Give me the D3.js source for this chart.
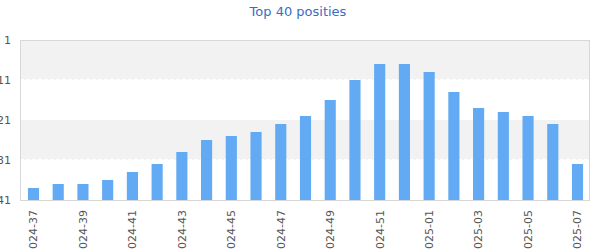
<!DOCTYPE html>
<html>
<head>
<meta charset="utf-8">
<script src="https://cdn.jsdelivr.net/npm/d3@7"></script>
<style>
  body { margin: 0; background: #fff; }
  svg { display: block; font-family: "DejaVu Sans", sans-serif; }
</style>
</head>
<body>
<div id="chart"></div>
<script>
// weeks and chart positions (1 = top)
const weeks = ["2024-37", "2024-38", "2024-39", "2024-40", "2024-41", "2024-42", "2024-43", "2024-44",
    "2024-45", "2024-46", "2024-47", "2024-48", "2024-49", "2024-50", "2024-51", "2024-52",
    "2025-01", "2025-02", "2025-03", "2025-04", "2025-05", "2025-06", "2025-07"];
const positions = [38, 37, 37, 36, 34, 32, 29, 26, 25, 24, 22, 20, 16, 11, 7, 7, 9, 14, 18, 19, 20, 22, 32];
const yTicks = [1, 11, 21, 31, 41];

const WIDTH = 600;
const HEIGHT = 250;
const margin = { top: 40, right: 10, bottom: 50, left: 20 };

const svg = d3.select("#chart")
    .append("svg")
    .attr("width", WIDTH)
    .attr("height", HEIGHT);

const x = d3.scaleBand()
    .domain(weeks)
    .range([margin.left + 1, WIDTH - margin.right])
    .paddingInner(0.55)
    .paddingOuter(0.28);

const y = d3.scaleLinear()
    .domain([1, 41])
    .range([margin.top, HEIGHT - margin.bottom]);

// title
svg.append("text")
    .attr("x", 298)
    .attr("y", 16)
    .attr("text-anchor", "middle")
    .style("font-size", "13px")
    .style("fill", "#3b6cc4")
    .text("Top 40 posities");

// alternating bands
const bands = d3.pairs(yTicks);
svg.selectAll(".band")
    .data(bands)
    .enter()
    .append("rect")
    .attr("class", "band")
    .attr("x", margin.left)
    .attr("y", d => y(d[0]))
    .attr("width", WIDTH - margin.right - margin.left)
    .attr("height", d => y(d[1]) - y(d[0]))
    .attr("fill", (d, i) => i % 2 === 0 ? "#f2f2f2" : "#fff");

// dashed white grid lines
svg.selectAll(".grid")
    .data(yTicks.slice(1, -1))
    .enter()
    .append("line")
    .attr("x1", margin.left)
    .attr("x2", WIDTH - margin.right)
    .attr("y1", d => y(d) - 0.5)
    .attr("y2", d => y(d) - 0.5)
    .attr("stroke", "#fff")
    .attr("stroke-dasharray", "4,2");

// plot border
svg.append("rect")
    .attr("x", margin.left + 0.5)
    .attr("y", margin.top + 0.5)
    .attr("width", WIDTH - margin.right - margin.left - 1)
    .attr("height", HEIGHT - margin.bottom - margin.top)
    .attr("fill", "none")
    .attr("stroke", "#d8d8d8");

// bars, rising from the bottom (position 41)
svg.selectAll(".bar")
    .data(weeks)
    .enter()
    .append("rect")
    .attr("class", "bar")
    .attr("x", d => x(d))
    .attr("width", x.bandwidth())
    .attr("y", (d, i) => y(positions[i]))
    .attr("height", (d, i) => y(41) - y(positions[i]))
    .attr("fill", "#62aaf4");

// y axis labels
svg.selectAll(".ylab")
    .data(yTicks)
    .enter()
    .append("text")
    .attr("x", 11)
    .attr("y", d => y(d))
    .attr("dy", "0.35em")
    .attr("text-anchor", "end")
    .style("font-size", "11px")
    .style("fill", "#555")
    .text(d => d);

// x axis labels (every other week)
svg.selectAll(".xlab")
    .data(weeks.filter((d, i) => i % 2 === 0))
    .enter()
    .append("text")
    .attr("transform", d => `translate(${x(d) + x.bandwidth() / 2},210) rotate(-90)`)
    .attr("dy", "0.35em")
    .attr("text-anchor", "end")
    .style("font-size", "11px")
    .style("fill", "#555")
    .text(d => d);
</script>
</body>
</html>
